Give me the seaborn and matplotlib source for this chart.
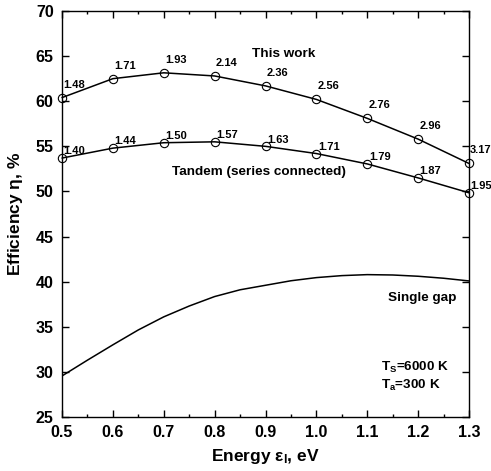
import matplotlib
matplotlib.use("Agg")
import matplotlib.pyplot as plt
import seaborn as sns
import pandas as pd
from matplotlib.ticker import MultipleLocator

# ---- data ----
energy = [0.5, 0.6, 0.7, 0.8, 0.9, 1.0, 1.1, 1.2, 1.3]
this_work = [60.4, 62.5, 63.15, 62.8, 61.7, 60.2, 58.1, 55.8, 53.1]
this_work_labels = ["1.48", "1.71", "1.93", "2.14", "2.36", "2.56", "2.76", "2.96", "3.17"]
tandem = [53.7, 54.8, 55.4, 55.5, 55.0, 54.2, 53.05, 51.5, 49.85]
tandem_labels = ["1.40", "1.44", "1.50", "1.57", "1.63", "1.71", "1.79", "1.87", "1.95"]
single_energy = [0.5, 0.55, 0.6, 0.65, 0.7, 0.75, 0.8, 0.85, 0.9, 0.95,
                 1.0, 1.05, 1.1, 1.15, 1.2, 1.25, 1.3]
single_gap = [29.55, 31.3, 33.0, 34.65, 36.1, 37.3, 38.35, 39.1, 39.6, 40.1,
              40.45, 40.67, 40.78, 40.74, 40.6, 40.38, 40.08]
x_ticks = [0.5, 0.6, 0.7, 0.8, 0.9, 1.0, 1.1, 1.2, 1.3]
x_tick_labels = ["0.5", "0.6", "0.7", "0.8", "0.9", "1.0", "1.1", "1.2", "1.3"]
y_ticks = [25, 30, 35, 40, 45, 50, 55, 60, 65, 70]

sns.set_style("ticks")
plt.rcParams["font.family"] = ["Liberation Sans", "DejaVu Sans"]
plt.rcParams["mathtext.fontset"] = "custom"
plt.rcParams["mathtext.rm"] = "Liberation Sans"
plt.rcParams["mathtext.it"] = "Liberation Sans"
plt.rcParams["mathtext.bf"] = "Liberation Sans:bold"
for key in ["text.color", "axes.labelcolor", "xtick.color", "ytick.color",
            "axes.edgecolor"]:
    plt.rcParams[key] = "black"

fig = plt.figure(figsize=(4.91, 4.71), dpi=100)
ax = fig.add_axes([62 / 491, 1 - 417 / 471, 407 / 491, 406 / 471])

df_top = pd.DataFrame({"E": energy, "eta": this_work})
df_tan = pd.DataFrame({"E": energy, "eta": tandem})
df_sg = pd.DataFrame({"E": single_energy, "eta": single_gap})

lw = 1.1
sns.lineplot(data=df_top, x="E", y="eta", ax=ax, color="black", lw=lw,
             marker="o", markersize=6, markerfacecolor="none",
             markeredgecolor="black", markeredgewidth=0.8, clip_on=False)
sns.lineplot(data=df_tan, x="E", y="eta", ax=ax, color="black", lw=lw,
             marker="o", markersize=6, markerfacecolor="none",
             markeredgecolor="black", markeredgewidth=0.8, clip_on=False)
sns.lineplot(data=df_sg, x="E", y="eta", ax=ax, color="black", lw=lw)

for xv, yv, lab in zip(energy, this_work, this_work_labels):
    ax.annotate(lab, (xv, yv), xytext=(8.6, 9.4), textcoords="offset points",
                ha="center", va="center", fontsize=8, fontweight="bold",
                annotation_clip=False)
for xv, yv, lab in zip(energy, tandem, tandem_labels):
    ax.annotate(lab, (xv, yv), xytext=(8.9, 4.9), textcoords="offset points",
                ha="center", va="center", fontsize=8, fontweight="bold",
                annotation_clip=False)

tfs = 9.7
ax.text(0.873, 65.24, "This work", ha="left", va="center", fontsize=tfs,
        fontweight="bold")
ax.text(0.716, 52.1, "Tandem (series connected)", ha="left", va="center",
        fontsize=tfs, fontweight="bold")
ax.text(1.276, 38.2, "Single gap", ha="right", va="center", fontsize=tfs,
        fontweight="bold")
ax.text(1.128, 30.5, r"T$_\mathbf{S}$=6000 K", ha="left", va="center",
        fontsize=tfs, fontweight="bold")
ax.text(1.128, 28.5, r"T$_\mathbf{a}$=300 K", ha="left", va="center",
        fontsize=tfs, fontweight="bold")

ax.set_xlim(0.5, 1.3)
ax.set_ylim(25, 70)
ax.set_xticks(x_ticks)
ax.set_xticklabels(x_tick_labels)
ax.set_yticks(y_ticks)
ax.xaxis.set_minor_locator(MultipleLocator(0.05))
ax.tick_params(which="both", direction="in", top=True, right=True,
               labelsize=11.5, width=1.0, pad=6, colors="black")
ax.tick_params(which="major", length=5)
ax.tick_params(which="minor", length=2.5)
for lab in ax.get_xticklabels() + ax.get_yticklabels():
    lab.set_fontweight("bold")
for sp in ax.spines.values():
    sp.set_linewidth(1.0)
    sp.set_color("black")

ax.set_xlabel(r"Energy $\mathregular{\varepsilon_l}$, eV", fontsize=12.5,
              fontweight="bold")
ax.set_ylabel(r"Efficiency $\mathregular{\eta}$, %", fontsize=12.5,
              fontweight="bold")
ax.xaxis.set_label_coords(0.5, -0.075)
ax.yaxis.set_label_coords(-0.092, 0.5)

fig.savefig("out.png", dpi=100)
